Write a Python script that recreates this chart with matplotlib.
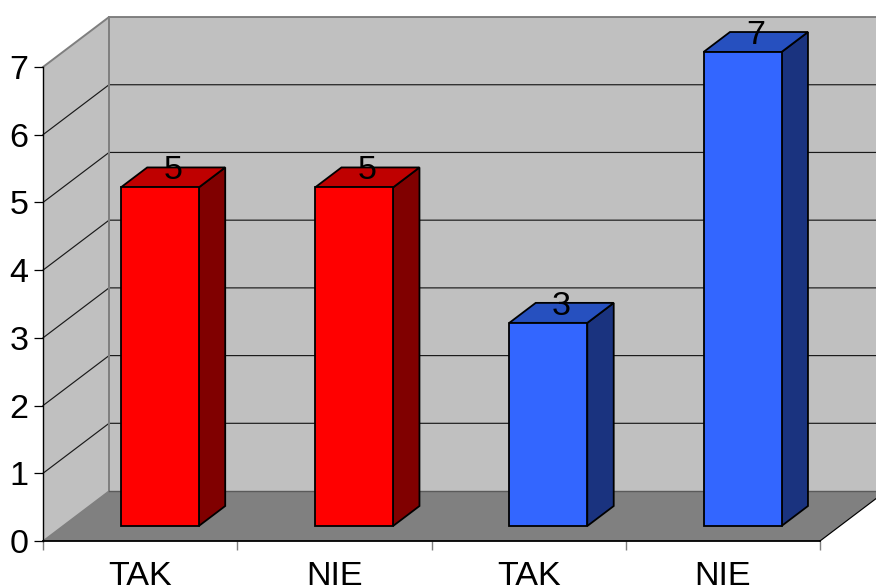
import matplotlib
matplotlib.use('Agg')
import matplotlib.pyplot as plt

categories = ['TAK', 'NIE', 'TAK', 'NIE']
values = [5, 5, 3, 7]
face_colors = ['#FF0000', '#FF0000', '#3366FF', '#3366FF']
top_colors = ['#BF0000', '#BF0000', '#2650BF', '#2650BF']
side_colors = ['#800000', '#800000', '#1A337F', '#1A337F']
y_ticks = [0, 1, 2, 3, 4, 5, 6, 7]

WALL = '#C0C0C0'
FLOOR = '#808080'
EDGE = '#7F7F7F'
FONT_SIZE = 24.6

# shear of the fake 3d box, in data units
DX = 0.34
DY = 0.738
BAR_LEFT = 0.2985
BAR_W = 0.4015
FRONT = 0.3
BACK = 0.7


def pt(x, v, depth):
    return x + DX * depth, v + DY * depth


def poly(ax, points, color, edge='black', lw=1.3, z=2):
    xs = [p[0] for p in points]
    ys = [p[1] for p in points]
    ax.fill(xs, ys, facecolor=color, edgecolor=edge, linewidth=lw,
            clip_on=False, zorder=z, joinstyle='miter')


def draw_box(ax):
    xmax = len(categories)
    ymax = y_ticks[-1]
    # walls and floor
    poly(ax, [pt(0, 0, 0), pt(0, ymax, 0), pt(0, ymax, 1), pt(0, 0, 1)], WALL, 'none', z=1)
    poly(ax, [pt(0, 0, 1), pt(0, ymax, 1), pt(xmax, ymax, 1), pt(xmax, 0, 1)], WALL, 'none', z=1)
    poly(ax, [pt(0, 0, 0), pt(xmax, 0, 0), pt(xmax, 0, 1), pt(0, 0, 1)], FLOOR, 'none', z=1)

    # grid lines run along the left wall and then the back wall
    for v in y_ticks[1:-1]:
        x0, y0 = pt(0, v, 0)
        x1, y1 = pt(0, v, 1)
        x2, y2 = pt(xmax, v, 1)
        ax.plot([x0, x1, x2], [y0, y1, y2], color='#1A1A1A', lw=0.85, clip_on=False, zorder=1.5)

    # grey box edges
    x0, y0 = pt(0, ymax, 0)
    x1, y1 = pt(0, ymax, 1)
    x2, y2 = pt(xmax, ymax, 1)
    ax.plot([x0, x1, x2], [y0, y1, y2], color=EDGE, lw=1.4, clip_on=False, zorder=1.5)
    x0, y0 = pt(0, 0, 0)
    x1, y1 = pt(0, 0, 1)
    x2, y2 = pt(xmax, 0, 1)
    ax.plot([x1, x1], [y1, pt(0, ymax, 1)[1]], color=EDGE, lw=1.4, clip_on=False, zorder=1.5)
    ax.plot([x0, x1], [y0, y1], color=EDGE, lw=1.0, clip_on=False, zorder=1.6)
    ax.plot([x1, x2], [y1, y2], color='#5A5A5A', lw=1.0, clip_on=False, zorder=1.6)
    x3, y3 = pt(xmax, 0, 0)
    ax.plot([x3, x2], [y3, y2], color='black', lw=0.85, clip_on=False, zorder=1.6)


def draw_bars(ax):
    for i, v in enumerate(values):
        l = i + BAR_LEFT
        r = l + BAR_W
        # side and top first so the front face covers their shared edges
        poly(ax, [pt(r, 0, FRONT), pt(r, 0, BACK), pt(r, v, BACK), pt(r, v, FRONT)], side_colors[i], z=3)
        poly(ax, [pt(l, v, FRONT), pt(r, v, FRONT), pt(r, v, BACK), pt(l, v, BACK)], top_colors[i], z=3)
        poly(ax, [pt(l, 0, FRONT), pt(r, 0, FRONT), pt(r, v, FRONT), pt(l, v, FRONT)], face_colors[i], z=4)
        tx, ty = pt((l + r) / 2, v, (FRONT + BACK) / 2)
        ax.text(tx, pt(0, v, BACK)[1], str(v), ha='center', va='center_baseline',
                fontsize=FONT_SIZE, color='black', zorder=5)


if __name__ == '__main__':
    plt.rcParams['font.family'] = ['Liberation Sans', 'DejaVu Sans']

    fig = plt.figure(figsize=(8.76, 5.88), dpi=100)
    ax = fig.add_axes([43 / 876, (588 - 541) / 588, 777 / 876, 474 / 588])
    ax.set_xlim(0, len(categories))
    ax.set_ylim(0, y_ticks[-1])
    ax.patch.set_visible(False)

    draw_box(ax)
    draw_bars(ax)

    ax.spines['top'].set_visible(False)
    ax.spines['right'].set_visible(False)
    ax.spines['left'].set_linewidth(1.0)
    ax.spines['bottom'].set_linewidth(1.3)
    ax.spines['bottom'].set_zorder(6)

    ax.set_yticks(y_ticks)
    ax.tick_params(axis='y', length=6.5, width=0.9, pad=4, labelsize=FONT_SIZE)
    ax.set_xticks(range(len(categories) + 1))
    ax.set_xticklabels([])
    ax.tick_params(axis='x', which='major', length=6.5, width=1.0, color=EDGE)
    ax.xaxis.get_major_ticks()[0].tick1line.set_color('black')
    ax.set_xticks([i + 0.5 for i in range(len(categories))], minor=True)
    ax.set_xticklabels(categories, minor=True)
    ax.tick_params(axis='x', which='minor', length=0, pad=14.5, labelsize=FONT_SIZE)

    fig.savefig('out.png', dpi=100)
    plt.close(fig)
